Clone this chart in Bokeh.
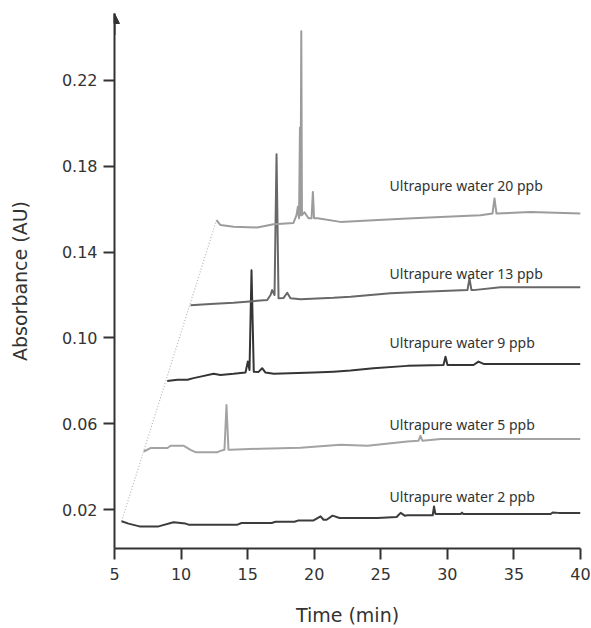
from bokeh.plotting import figure
from bokeh.models import FixedTicker, Arrow, NormalHead, NumeralTickFormatter, Range1d
from bokeh.core.properties import value
from bokeh.embed import file_html
from bokeh.resources import INLINE

# ---- data (time in min, absorbance in AU) ----
time_2 = [5.53, 6.05, 6.88, 8.31, 9.43, 10.33, 10.56, 14.24, 14.54, 16.80, 17.10, 18.52, 18.82,
          19.95, 20.48, 20.70, 20.93, 21.38, 21.90, 24.76, 26.19, 26.49, 26.80, 27.01, 28.74,
          28.90, 29.00, 29.10, 29.27, 31.00, 31.10, 31.20, 37.76, 37.91, 38.36, 40.00]
abs_2 = [0.0146, 0.0135, 0.0122, 0.0122, 0.0141, 0.0135, 0.0130, 0.0130, 0.0138, 0.0138, 0.0144,
         0.0144, 0.0150, 0.0150, 0.0169, 0.0153, 0.0153, 0.0172, 0.0161, 0.0161, 0.0166, 0.0185,
         0.0172, 0.0174, 0.0174, 0.0174, 0.0215, 0.0180, 0.0180, 0.0180, 0.0186, 0.0180, 0.0180,
         0.0187, 0.0185, 0.0185]

time_5 = [7.20, 7.70, 8.98, 9.21, 10.18, 10.71, 11.08, 12.74, 12.96, 13.26, 13.41, 13.56, 13.71,
          15.97, 18.97, 21.97, 24.00, 27.00, 27.83, 27.98, 28.13, 29.49, 40.00]
abs_5 = [0.0471, 0.0487, 0.0487, 0.0498, 0.0498, 0.0479, 0.0468, 0.0468, 0.0474, 0.0479, 0.0688,
         0.0479, 0.0479, 0.0484, 0.0488, 0.0502, 0.0498, 0.0518, 0.0521, 0.0544, 0.0521, 0.0529,
         0.0529]

time_9 = [8.96, 9.73, 10.48, 10.93, 11.46, 12.44, 12.96, 13.94, 14.84, 15.01, 15.14, 15.29, 15.46,
          15.82, 16.09, 16.34, 16.96, 19.97, 21.45, 22.73, 24.45, 27.00, 29.71, 29.86, 30.01,
          31.96, 32.34, 32.72, 40.00]
abs_9 = [0.0800, 0.0805, 0.0805, 0.0813, 0.0820, 0.0833, 0.0828, 0.0833, 0.0839, 0.0890, 0.0851,
         0.1316, 0.0843, 0.0842, 0.0859, 0.0839, 0.0833, 0.0839, 0.0843, 0.0848, 0.0859, 0.0870,
         0.0874, 0.0913, 0.0874, 0.0874, 0.0890, 0.0879, 0.0879]

time_13 = [10.71, 12.21, 13.94, 16.47, 16.72, 16.84, 17.02, 17.17, 17.32, 17.69, 17.97, 18.22,
           18.97, 21.45, 22.73, 25.73, 28.21, 31.51, 31.66, 31.81, 31.96, 33.99, 40.00]
abs_13 = [0.1153, 0.1158, 0.1164, 0.1177, 0.1200, 0.1223, 0.1200, 0.1856, 0.1185, 0.1186, 0.1211,
          0.1185, 0.1181, 0.1187, 0.1192, 0.1208, 0.1215, 0.1223, 0.1278, 0.1223, 0.1223, 0.1236,
          0.1236]

time_20 = [12.66, 12.96, 13.94, 15.72, 16.94, 18.44, 18.67, 18.77, 18.86, 18.93, 18.97, 19.03,
           19.08, 19.27, 19.57, 19.80, 19.90, 19.99, 20.25, 21.97, 24.45, 27.01, 29.49, 32.49,
           33.39, 33.54, 33.69, 36.24, 40.00]
abs_20 = [0.1549, 0.1526, 0.1518, 0.1515, 0.1530, 0.1536, 0.1572, 0.1611, 0.1558, 0.1981, 0.1572,
          0.2429, 0.1572, 0.1586, 0.1558, 0.1558, 0.1680, 0.1558, 0.1558, 0.1541, 0.1549, 0.1557,
          0.1564, 0.1572, 0.1580, 0.1650, 0.1580, 0.1587, 0.1580]

series_names = ["Ultrapure water 2 ppb", "Ultrapure water 5 ppb", "Ultrapure water 9 ppb",
                "Ultrapure water 13 ppb", "Ultrapure water 20 ppb"]
label_time = [25.66, 25.66, 25.66, 25.66, 25.66]
label_abs = [0.0260, 0.0595, 0.0977, 0.1302, 0.1712]

x_ticks = [5, 10, 15, 20, 25, 30, 35, 40]
y_ticks = [0.02, 0.06, 0.10, 0.14, 0.18, 0.22]
x_title = "Time (min)"
y_title = "Absorbance (AU)"

series = [(time_2, abs_2, "#3c3c3c"), (time_5, abs_5, "#a3a3a3"), (time_9, abs_9, "#353535"),
          (time_13, abs_13, "#686868"), (time_20, abs_20, "#9c9c9c")]

X_START, X_END = 5, 40
Y_START, Y_END = 0.0019, 0.2512

p = figure(width=591, height=628, output_backend="svg", toolbar_location=None,
           x_range=Range1d(X_START, X_END), y_range=Range1d(Y_START, Y_END),
           min_border_left=114, min_border_right=11, min_border_top=13, min_border_bottom=79)
p.outline_line_color = None
p.grid.visible = False
p.background_fill_color = "white"
p.border_fill_color = "white"

axis_color = "#333333"
for ax in (p.xaxis[0], p.yaxis[0]):
    ax.axis_line_color = axis_color
    ax.axis_line_width = 2
    ax.major_tick_line_color = axis_color
    ax.major_tick_line_width = 2
    ax.major_tick_in = 0
    ax.major_tick_out = 11
    ax.minor_tick_line_color = None
    ax.major_label_text_font = "DejaVu Sans"
    ax.major_label_text_font_size = "16px"
    ax.major_label_text_color = "#333333"
    ax.axis_label_text_font = "DejaVu Sans"
    ax.axis_label_text_font_size = "19px"
    ax.axis_label_text_font_style = "normal"
    ax.axis_label_text_color = "#333333"

p.xaxis.major_label_standoff = 8
p.yaxis.major_label_standoff = 6
p.xaxis.ticker = FixedTicker(ticks=x_ticks)
p.yaxis.ticker = FixedTicker(ticks=y_ticks)
p.yaxis.formatter = NumeralTickFormatter(format="0.00")
p.xaxis.axis_label = x_title
p.yaxis.axis_label = y_title
p.xaxis.axis_label_standoff = 21
p.yaxis.axis_label_standoff = 28

# dotted guide through the start of each trace
p.line([time_2[0], time_20[0]], [abs_2[0], abs_20[0]], line_color="#b5b5b5",
       line_width=1.2, line_dash="1 2")

for t, a, c in series:
    p.line(t, a, line_color=c, line_width=2, line_join="round")

p.text(x=label_time, y=label_abs, text=series_names, text_font=value("Noto Sans"),
       text_font_size="14px", text_color="#333333", text_align="left", text_baseline="middle")

# arrow head at top of y axis
p.add_layout(Arrow(x_start=X_START, y_start=Y_END - 0.01, x_end=X_START, y_end=Y_END,
                   line_color=axis_color, line_width=2,
                   end=NormalHead(size=10, fill_color=axis_color, line_color=axis_color)))

open("out.html", "w").write(file_html(p, INLINE))
